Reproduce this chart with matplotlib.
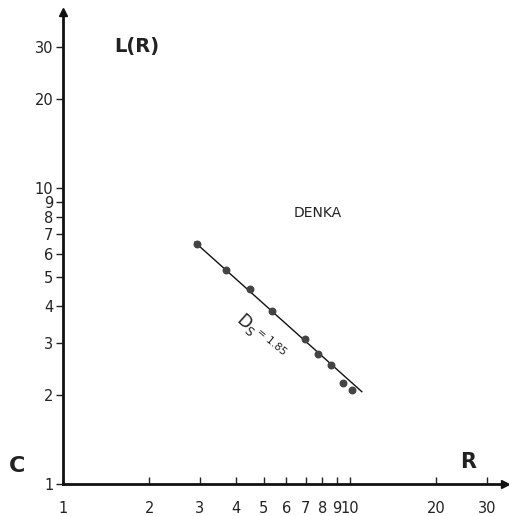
import matplotlib
matplotlib.use("Agg")
import matplotlib.pyplot as plt
from matplotlib.ticker import FixedLocator, FixedFormatter, NullLocator

# Data
r_values = [2.93, 3.70, 4.48, 5.35, 6.97, 7.73, 8.59, 9.45, 10.2]
l_values = [6.47, 5.28, 4.56, 3.84, 3.09, 2.75, 2.52, 2.19, 2.08]
fit_r = [2.88, 11.0]
fit_l = [6.56, 2.05]
x_ticks = [1, 2, 3, 4, 5, 6, 7, 8, 9, 10, 20, 30]
x_labels = ["1", "2", "3", "4", "5", "6", "7", "8", "9", "10", "20", "30"]
y_ticks = [1, 2, 3, 4, 5, 6, 7, 8, 9, 10, 20, 30]
y_labels = ["1", "2", "3", "4", "5", "6", "7", "8", "9", "10", "20", "30"]

plt.rcParams['font.family'] = ['DejaVu Sans']

fig = plt.figure(figsize=(5.10, 5.16), dpi=100)
W, H = 510, 516
ax = fig.add_axes([63 / W, (H - 484) / H, (505 - 63) / W, (484 - 12) / H])
ax.set_xscale('log')
ax.set_yscale('log')
ax.set_xlim(1, 34.7)
ax.set_ylim(1, 39.3)

for s in ['top', 'right']:
    ax.spines[s].set_visible(False)
for s in ['left', 'bottom']:
    ax.spines[s].set_linewidth(2.0)
    ax.spines[s].set_color('#111111')

# arrowheads
ax.plot(1, 0, ">", color='#111111', markersize=6, transform=ax.transAxes, clip_on=False)
ax.plot(0, 1, "^", color='#111111', markersize=6, transform=ax.transAxes, clip_on=False)

ax.xaxis.set_major_locator(FixedLocator(x_ticks))
ax.xaxis.set_major_formatter(FixedFormatter(x_labels))
ax.xaxis.set_minor_locator(NullLocator())
ax.yaxis.set_major_locator(FixedLocator(y_ticks))
ax.yaxis.set_major_formatter(FixedFormatter(y_labels))
ax.yaxis.set_minor_locator(NullLocator())

ax.tick_params(axis='x', direction='in', length=5, width=1, pad=12, labelsize=10.5, colors='#222222')
ax.tick_params(axis='y', direction='out', length=5, width=1, pad=2, labelsize=10.5, colors='#222222')

ax.plot(fit_r, fit_l, color='#111111', linewidth=1.0)
ax.scatter(r_values, l_values, s=22, color='#444444', zorder=3)

ax.text(114 / W, 1 - 47 / H, "L(R)", transform=fig.transFigure, fontsize=14,
        fontweight='bold', ha='left', va='center', color='#222222')
ax.text(318 / W, 1 - 213 / H, "DENKA", transform=fig.transFigure, fontsize=10,
        ha='center', va='center', color='#222222')
ax.text(468 / W, 1 - 462 / H, "R", transform=fig.transFigure, fontsize=15,
        fontweight='bold', ha='center', va='center', color='#222222')
ax.text(17 / W, 1 - 466 / H, "C", transform=fig.transFigure, fontsize=16,
        fontweight='bold', ha='center', va='center', color='#222222')
ax.text(247 / W, 1 - 324 / H, r"D$_{\mathregular{S}}$", transform=fig.transFigure,
        fontsize=12.5, rotation=-42, ha='center', va='center', color='#222222',
        rotation_mode='anchor')
ax.text(271 / W, 1 - 342 / H, "= 1.85", transform=fig.transFigure,
        fontsize=7.5, rotation=-40, ha='center', va='center', color='#222222',
        rotation_mode='anchor')

fig.savefig("out.png", dpi=100)
